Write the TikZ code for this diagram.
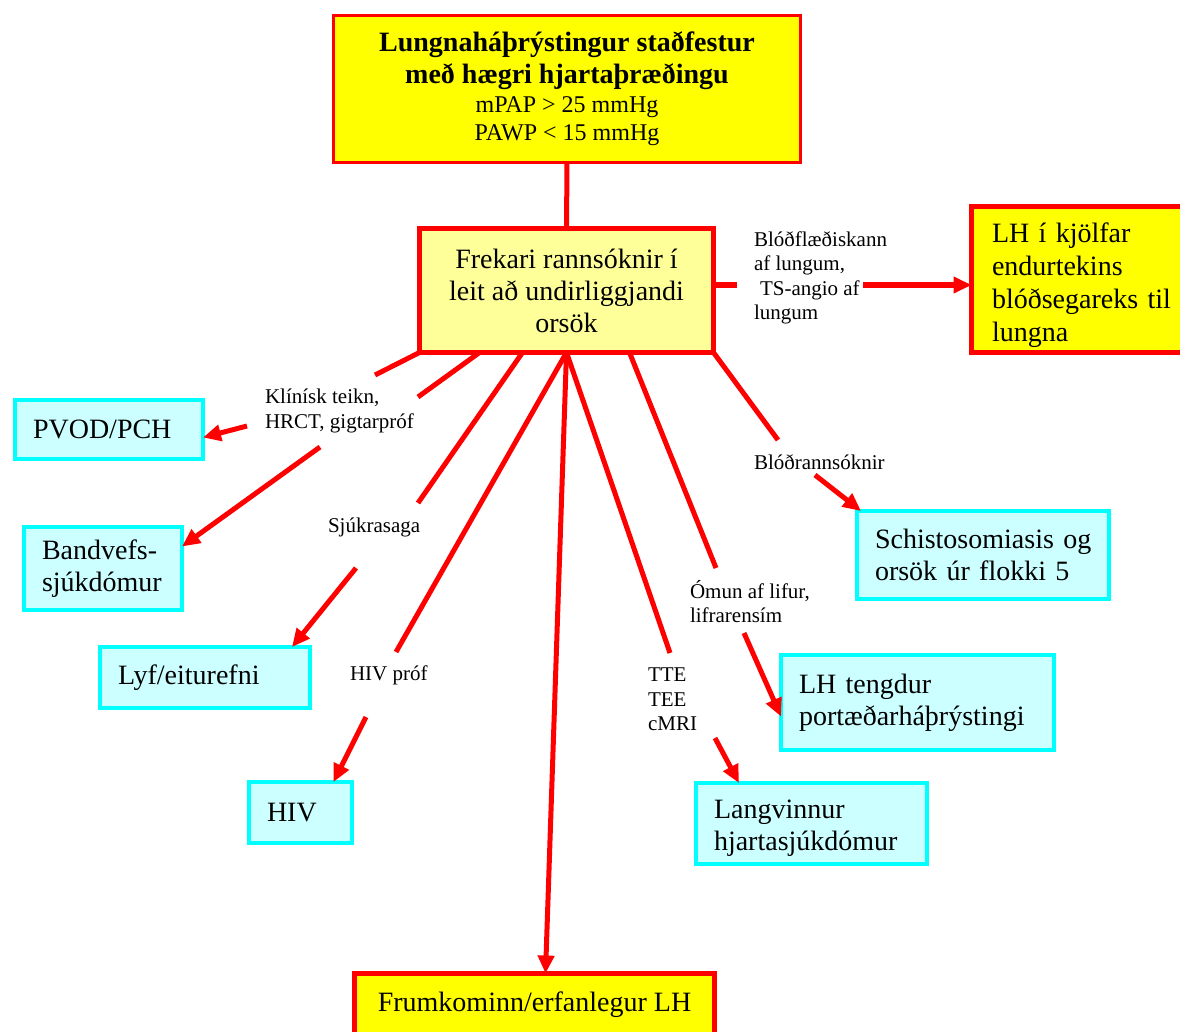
\documentclass[tikz,border=0pt]{standalone}
\usepackage{fontspec}
\setmainfont{Liberation Serif}
\usetikzlibrary{arrows.meta,calc}
\definecolor{rd}{HTML}{FF0000}
\definecolor{yl}{HTML}{FFFF00}
\definecolor{lyl}{HTML}{FFFF99}
\definecolor{cyb}{HTML}{00FFFF}
\definecolor{cyf}{HTML}{CCFFFF}
\newcommand{\fsz}[2]{\fontsize{#1}{#2}\selectfont}
\hyphenpenalty=10000
\exhyphenpenalty=10000
\begin{document}
\begin{tikzpicture}[x=1pt,y=-1pt,
 every node/.style={outer sep=0pt},
 conn/.style={draw=rd, line width=5pt},
 arr/.style={conn, -{Triangle[length=18pt,width=16pt]}},
 rbox/.style={draw=rd, fill=yl, anchor=north west, inner sep=0pt, font=\fsz{28}{32}},
 cbox/.style={draw=cyb, fill=cyf, line width=4pt, anchor=north west, inner xsep=18pt, inner ysep=0pt, align=left, font=\fsz{28}{32}},
 lab/.style={anchor=west, inner sep=0pt, align=left, font=\fsz{21}{24.5}},
]
\path[fill=white, use as bounding box] (0,0) rectangle (1180,1032);

% red/yellow boxes
\node[rbox, line width=3pt, minimum width=467pt, minimum height=147pt, align=center] (top) at (333.5,15.5)
 {{\bfseries Lungnaháþrýstingur staðfestur}\\{\bfseries með hægri hjartaþræðingu}\\[-3pt]{\fsz{24}{28}mPAP > 25 mmHg}\\[-4pt]{\fsz{24}{28}PAWP < 15 mmHg}};
\node[rbox, fill=lyl, line width=5pt, minimum width=294pt, minimum height=124pt, align=center] (mid) at (419.5,228.5)
 {Frekari rannsóknir í\\leit að undirliggjandi\\orsök};
\node[rbox, line width=5pt, minimum height=146pt, text width=190pt, inner xsep=20.5pt, align=left, font=\fsz{28}{33}] (lhk) at (971.5,206.5)
 {\rule{0pt}{32pt}LH í kjölfar\\endurtekins\\blóðsegareks til\\lungna};
\node[rbox, line width=5pt, minimum width=360pt, inner ysep=8pt, text height=29.5pt, text depth=40pt] (frum) at (354.5,973.5)
 {Frumkominn/erfanlegur LH};

% cyan boxes
\node[cbox, text width=152pt, minimum height=59pt] (pvod) at (15,400) {PVOD/PCH};
\node[cbox, text width=122pt, minimum height=83pt] (band) at (24,527) {Bandvefs-\\sjúkdómur};
\node[cbox, text width=174pt, minimum height=61pt] (lyf) at (100,647) {Lyf/eiturefni};
\node[cbox, text width=67pt, minimum height=61pt] (hiv) at (249,782) {HIV};
\node[cbox, text width=216pt, minimum height=88pt] (schi) at (857,511) {\mbox{Schistosomiasis og}\\\mbox{orsök úr flokki 5}};
\node[cbox, text width=237pt, minimum height=95pt] (lht) at (781,655) {LH tengdur\\portæðarháþrýstingi};
\node[cbox, text width=195pt, minimum height=81pt] (lang) at (696,783) {\rule{0pt}{28pt}Langvinnur\\hjartasjúkdómur};

% labels
\node[lab] (l1) at (754,278) {Blóðflæðiskann\\af lungum,\\\hspace*{6pt}TS-angio af\\lungum};
\node[lab] (l2) at (265,411) {Klínísk teikn,\\HRCT, gigtarpróf};
\node[lab] (l3) at (328,527) {Sjúkrasaga};
\node[lab] (l4) at (350,675) {HIV próf};
\node[lab] (l5) at (648,699.5) {TTE\\TEE\\cMRI};
\node[lab] (l6) at (690,601.5) {Ómun af lifur,\\lifrarensím};
\node[lab] (l7) at (754,462) {Blóðrannsóknir};

% gap coordinates
\coordinate (r1) at (737,285);
\coordinate (r2) at (863,285);
\coordinate (k1a) at (375,375);
\coordinate (k1b) at (247,426);
\coordinate (k2a) at (418,397);
\coordinate (k2b) at (320,447);
\coordinate (k3a) at (418,503);
\coordinate (k3b) at (356,568);
\coordinate (k4a) at (396,652);
\coordinate (k4b) at (366,717);
\coordinate (k5a) at (670,653);
\coordinate (k5b) at (715,738);
\coordinate (k6a) at (716,568);
\coordinate (k6b) at (744,633);
\coordinate (k7a) at (778,440);
\coordinate (k7b) at (815,475);

% connectors
\draw[conn] (top.south) -- (mid.north);
\draw[conn] (mid.east |- r1) -- (r1);
\draw[arr] (r2) -- (lhk.west |- r2);
\draw[conn] (mid.south west) -- (k1a);
\draw[arr] (k1b) -- ($(pvod.east)+(0,8)$);
\draw[conn] ($(mid.south west)+(60,0)$) -- (k2a);
\draw[arr] (k2b) -- ($(band.east)+(0,-22)$);
\draw[conn] ($(mid.south west)+(103,0)$) -- (k3a);
\draw[arr] (k3b) -- ($(lyf.north east)+(-18,0)$);
\draw[conn] (mid.south) -- (k4a);
\draw[arr] (k4b) -- ($(hiv.north)+(33,0)$);
\draw[arr] (mid.south) -- ($(frum.north)+(11,0)$);
\draw[conn] (mid.south) -- (k5a);
\draw[arr] (k5b) -- ($(lang.north west)+(43,0)$);
\draw[conn] ($(mid.south west)+(210,0)$) -- (k6a);
\draw[arr] (k6b) -- ($(lht.west)+(0,14)$);
\draw[conn] (mid.south east) -- (k7a);
\draw[arr] (k7b) -- ($(schi.north west)+(4,0)$);
\end{tikzpicture}
\end{document}
